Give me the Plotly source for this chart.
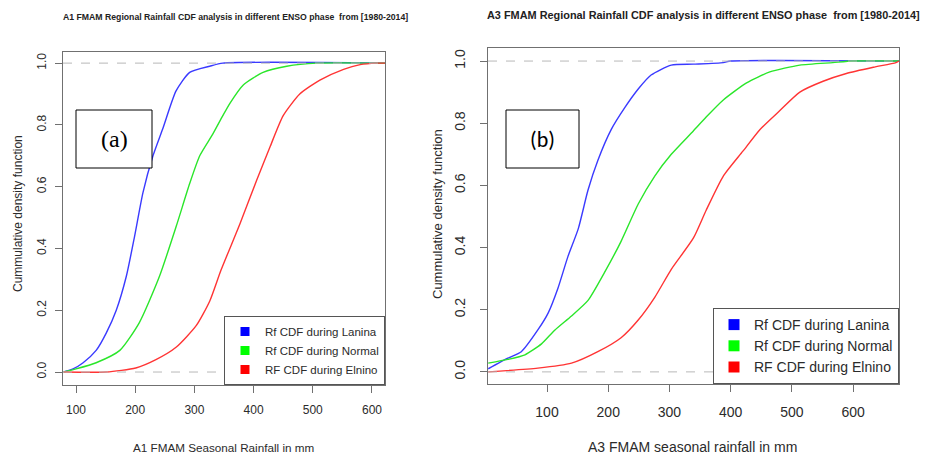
import plotly.graph_objects as go

W, H = 930, 454

# ---------------- data ----------------
a1_lanina_mm = [79, 95, 112, 134, 151, 168, 185, 199, 213, 230, 247, 269, 292, 326, 348, 622]
a1_lanina_cdf = [0.0, 0.01, 0.03, 0.07, 0.126, 0.20, 0.31, 0.44, 0.58, 0.70, 0.79, 0.91, 0.97, 0.99, 1.0, 1.0]

a1_normal_mm = [79, 100, 134, 174, 207, 241, 269, 292, 309, 331, 348, 360, 383, 416, 456, 507, 622]
a1_normal_cdf = [0.0, 0.01, 0.03, 0.07, 0.16, 0.31, 0.47, 0.61, 0.70, 0.77, 0.83, 0.87, 0.93, 0.97, 0.99, 1.0, 1.0]

a1_elnino_mm = [79, 151, 201, 235, 269, 303, 326, 345, 377, 405, 428, 450, 478, 512, 552, 580, 608, 622]
a1_elnino_cdf = [0.0, 0.0, 0.013, 0.04, 0.08, 0.15, 0.23, 0.33, 0.48, 0.62, 0.73, 0.83, 0.90, 0.945, 0.98, 0.995, 1.0, 1.0]

a3_lanina_mm = [4, 36, 58, 85, 102, 118, 134, 151, 167, 183, 205, 227, 249, 270, 303, 339, 388, 400, 675]
a3_lanina_cdf = [0.01, 0.044, 0.065, 0.135, 0.19, 0.27, 0.37, 0.46, 0.585, 0.68, 0.78, 0.85, 0.91, 0.955, 0.987, 0.99, 0.995, 1.0, 1.0]

a3_normal_mm = [4, 36, 64, 91, 113, 140, 167, 194, 221, 249, 276, 303, 339, 360, 388, 426, 464, 513, 567, 600, 675]
a3_normal_cdf = [0.028, 0.04, 0.055, 0.09, 0.135, 0.18, 0.23, 0.32, 0.42, 0.54, 0.63, 0.70, 0.775, 0.82, 0.875, 0.93, 0.965, 0.987, 0.995, 1.0, 1.0]

a3_elnino_mm = [4, 85, 140, 183, 221, 249, 276, 303, 339, 360, 388, 420, 448, 480, 513, 551, 589, 633, 670, 675]
a3_elnino_cdf = [0.0, 0.012, 0.028, 0.065, 0.11, 0.167, 0.24, 0.33, 0.43, 0.52, 0.63, 0.71, 0.78, 0.84, 0.90, 0.935, 0.96, 0.98, 0.995, 1.0]

series_names = ["Rf CDF during Lanina", "Rf CDF during Normal", "RF CDF during Elnino"]
x_ticks = [100, 200, 300, 400, 500, 600]
y_ticks = [0.0, 0.2, 0.4, 0.6, 0.8, 1.0]
y_ticktext = ["0.0", "0.2", "0.4", "0.6", "0.8", "1.0"]

title_a1 = "A1 FMAM Regional Rainfall CDF analysis in different ENSO phase  from [1980-2014]"
title_a3 = "A3 FMAM Regional Rainfall CDF analysis in different ENSO phase  from [1980-2014]"
xlabel_a1 = "A1 FMAM Seasonal Rainfall in mm"
xlabel_a3 = "A3 FMAM seasonal rainfall in mm"
ylabel = "Cummulative density function"

colors = ["#3a3aff", "#2ae62a", "#ff3434"]
legend_colors = ["#0000ff", "#00ff00", "#ff0000"]

NARROW = "Liberation Sans Narrow, Arial Narrow, Liberation Sans, Arial, sans-serif"
SANS = "Liberation Sans, Arial, sans-serif"
TXT = "#2b2b2b"


def px(x):
    return x / W


def py(y):
    return (H - y) / H


fig = go.Figure()

left = [(a1_lanina_mm, a1_lanina_cdf), (a1_normal_mm, a1_normal_cdf), (a1_elnino_mm, a1_elnino_cdf)]
right = [(a3_lanina_mm, a3_lanina_cdf), (a3_normal_mm, a3_normal_cdf), (a3_elnino_mm, a3_elnino_cdf)]

for (xs, ys), c, n in zip(left, colors, series_names):
    fig.add_trace(go.Scatter(x=xs, y=ys, mode="lines",
                             line=dict(color=c, width=1.4, shape="spline", smoothing=0.6),
                             name=n, showlegend=False, xaxis="x", yaxis="y"))
for (xs, ys), c, n in zip(right, colors, series_names):
    fig.add_trace(go.Scatter(x=xs, y=ys, mode="lines",
                             line=dict(color=c, width=1.4, shape="spline", smoothing=0.6),
                             name=n, showlegend=False, xaxis="x2", yaxis="y2"))

# legend entries (filled squares like R's legend)
for c, n in zip(legend_colors, series_names):
    fig.add_trace(go.Scatter(x=[None], y=[None], mode="markers",
                             marker=dict(symbol="square", size=9, color=c),
                             name=n, legend="legend", xaxis="x", yaxis="y"))
for c, n in zip(legend_colors, series_names):
    fig.add_trace(go.Scatter(x=[None], y=[None], mode="markers",
                             marker=dict(symbol="square", size=11, color=c),
                             name=n, legend="legend2", xaxis="x2", yaxis="y2"))

axis_common = dict(showgrid=False, zeroline=False, showline=True, linecolor="#707070",
                   linewidth=1, mirror=True, ticks="outside", ticklen=7, tickcolor="#707070")

fig.update_layout(
    width=W, height=H,
    margin=dict(l=0, r=0, t=0, b=0),
    plot_bgcolor="white", paper_bgcolor="white",
    xaxis=dict(domain=[px(63), px(385)], range=[78, 622], tickvals=x_ticks, anchor="y",
               tickfont=dict(family=NARROW, size=12, color=TXT), ticklabelstandoff=7,
               **axis_common),
    yaxis=dict(domain=[py(385), py(52)], range=[-0.042, 1.036], tickvals=y_ticks,
               ticktext=y_ticktext, tickangle=-90, anchor="x",
               tickfont=dict(family=NARROW, size=12, color=TXT), ticklabelstandoff=4,
               **axis_common),
    xaxis2=dict(domain=[px(488), px(899)], range=[3.6, 675], tickvals=x_ticks, anchor="y2",
                tickfont=dict(family=SANS, size=14, color=TXT), ticklabelstandoff=8,
                **axis_common),
    yaxis2=dict(domain=[py(384), py(48)], range=[-0.039, 1.042], tickvals=y_ticks,
                ticktext=y_ticktext, tickangle=-90, anchor="x2",
                tickfont=dict(family=SANS, size=14, color=TXT), ticklabelstandoff=9,
                **axis_common),
    legend=dict(x=px(385), y=py(385), xanchor="right", yanchor="bottom",
                bordercolor="#555", borderwidth=1, bgcolor="white",
                font=dict(family=NARROW, size=11.5, color=TXT), tracegroupgap=0,
                itemwidth=30),
    legend2=dict(x=px(899), y=py(384), xanchor="right", yanchor="bottom",
                 bordercolor="#555", borderwidth=1, bgcolor="white",
                 font=dict(family=SANS, size=14, color=TXT), tracegroupgap=0,
                 itemwidth=30),
)

shapes = []
for xr, yr in [("x domain", "y"), ("x2 domain", "y2")]:
    for yv in (0, 1):
        shapes.append(dict(type="line", xref=xr, yref=yr, x0=0, x1=1, y0=yv, y1=yv,
                           line=dict(color="#b8b8b8", width=1, dash="dash"), layer="above"))
# panel label boxes
shapes.append(dict(type="rect", xref="paper", yref="paper", x0=px(76), x1=px(152),
                   y0=py(168), y1=py(110), line=dict(color="black", width=1),
                   fillcolor="white", layer="above"))
shapes.append(dict(type="rect", xref="paper", yref="paper", x0=px(506), x1=px(579),
                   y0=py(168), y1=py(110), line=dict(color="black", width=1),
                   fillcolor="white", layer="above"))
fig.update_layout(shapes=shapes)

ann = [
    dict(text="<b>" + title_a1 + "</b>", x=px(235), y=py(17), font=dict(family=NARROW, size=8.7, color="#222")),
    dict(text="<b>" + title_a3 + "</b>", x=px(703), y=py(15), font=dict(family=SANS, size=10.9, color="#222")),
    dict(text=xlabel_a1, x=px(223), y=py(447), font=dict(family=NARROW, size=11.7, color=TXT)),
    dict(text=xlabel_a3, x=px(692), y=py(447), font=dict(family=SANS, size=14, color=TXT)),
    dict(text=ylabel, x=px(18), y=py(214), textangle=-90, font=dict(family=NARROW, size=12, color=TXT)),
    dict(text=ylabel, x=px(437), y=py(214), textangle=-90, font=dict(family=SANS, size=13, color=TXT)),
    dict(text="(a)", x=px(114), y=py(139), font=dict(family="Liberation Serif, Times New Roman, serif", size=24, color="black")),
    dict(text="(b)", x=px(542.5), y=py(139), font=dict(family="Carlito, Open Sans, Liberation Sans, sans-serif", size=22, color="black")),
]
for a in ann:
    a.update(xref="paper", yref="paper", showarrow=False, xanchor="center", yanchor="middle")
fig.update_layout(annotations=ann)

fig.write_html("out.html")
